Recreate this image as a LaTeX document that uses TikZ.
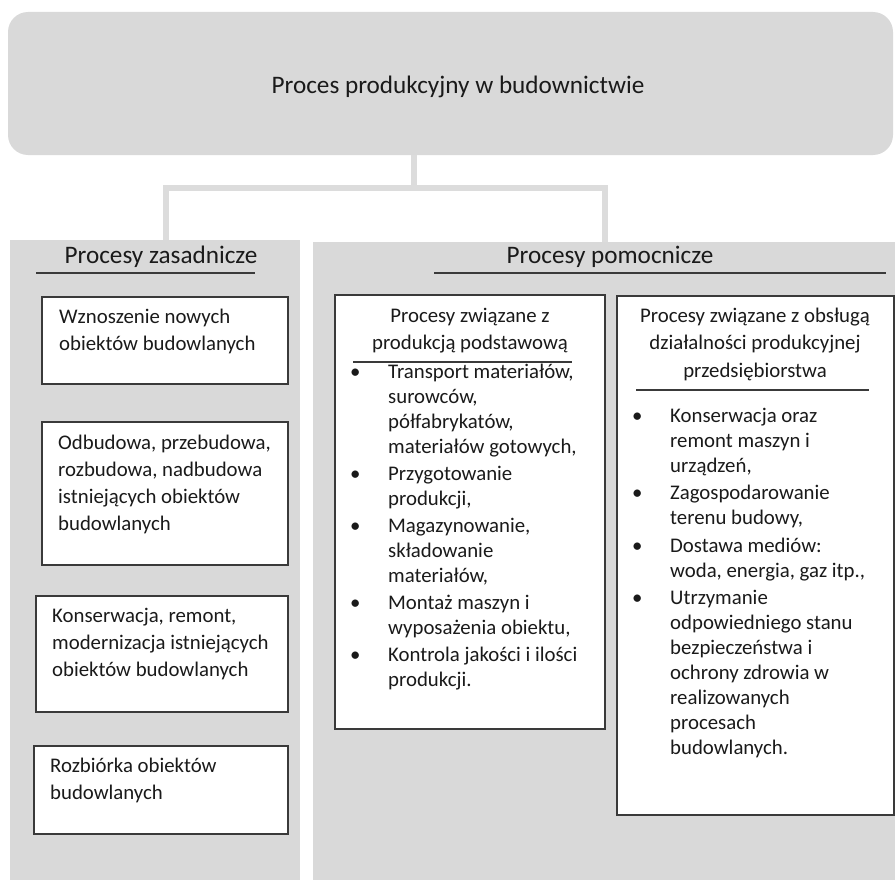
\documentclass[tikz,border=0pt]{standalone}
\usepackage{fontspec}
\setmainfont{Carlito}
\definecolor{panel}{HTML}{D9D9D9}
\definecolor{conncol}{HTML}{DCDCDC}
\definecolor{ink}{HTML}{1A1A1A}
\definecolor{edge}{HTML}{3A3A3A}
\newcommand{\leftf}{\fontsize{20.8}{27}\selectfont}
\newcommand{\listf}{\fontsize{20.8}{25}\selectfont}
\newcommand{\titf}{\fontsize{20.8}{27.5}\selectfont}
\newcommand{\headf}{\fontsize{25.2}{30}\selectfont}
\newcommand{\bl}{\llap{\makebox[66pt][c]{\textbullet}}}
\begin{document}
\begin{tikzpicture}[x=1pt,y=-1pt,
  topbox/.style={fill=panel, rounded corners=20pt, inner sep=0pt},
  panelbox/.style={fill=panel, inner sep=0pt},
  itembox/.style={draw=edge, fill=white, line width=1.3pt, inner sep=0pt},
  txt/.style={anchor=north west, inner sep=0pt, align=left, font=\leftf, text=ink},
  ltxt/.style={anchor=north west, inner sep=0pt, align=left, font=\listf, text=ink},
  ctxt/.style={anchor=north, inner sep=0pt, align=center, font=\titf, text=ink},
  head/.style={anchor=base, inner sep=0pt, font=\headf, text=ink},
  conn/.style={draw=conncol, line width=5.5pt},
  rule/.style={draw=edge, line width=1.3pt}]
\useasboundingbox (0,0) rectangle (895,883);
% top box
\node[topbox, minimum width=885pt, minimum height=143pt] (top) at (450.5,83.5) {};
\node[head] (toptitle) at (458,94) {Proces produkcyjny w budownictwie};
% panels
\node[panelbox, minimum width=290pt, minimum height=640pt] (lp) at (155,560) {};
\node[panelbox, minimum width=582pt, minimum height=638pt] (rp) at (604,561) {};
% connectors
\coordinate (jn) at (414,188);
\draw[conn] (jn |- top.south) -- (jn) -| ([xshift=11pt]lp.north);
\draw[conn] (jn) -| ([xshift=1pt]rp.north);
% headings
\node[head] (lh) at (161,263) {Procesy zasadnicze};
\draw[rule] (36,273) coordinate (lhl) -- (255,273) coordinate (lhr);
\node[head] (rh) at (610,263) {Procesy pomocnicze};
\draw[rule] (434,273) coordinate (rhl) -- (886,273) coordinate (rhr);
% left boxes
\node[itembox, minimum width=246pt, minimum height=87pt] (b1) at (165,340.5) {};
\node[txt] (b1t) at (59,304) {\strut Wznoszenie nowych\\obiektów budowlanych};
\node[itembox, minimum width=246pt, minimum height=143pt] (b2) at (165,493.5) {};
\node[txt] (b2t) at (58,430) {\strut Odbudowa, przebudowa,\\rozbudowa, nadbudowa\\istniejących obiektów\\budowlanych};
\node[itembox, minimum width=252pt, minimum height=116pt] (b3) at (162,654) {};
\node[txt] (b3t) at (52,603) {\strut Konserwacja, remont,\\modernizacja istniejących\\obiektów budowlanych};
\node[itembox, minimum width=254pt, minimum height=88pt] (b4) at (161,790) {};
\node[txt] (b4t) at (50,753) {\strut Rozbiórka obiektów\\budowlanych};
% right inner boxes
\node[itembox, minimum width=270pt, minimum height=434pt] (b5) at (470,512) {};
\node[ctxt] (b5h) at (470,303) {\strut Procesy związane z\\produkcją podstawową};
\draw[rule] (353,362) coordinate (b5l) -- (572,362) coordinate (b5r);
\node[ltxt] (b5t) at (388,360.5) {\strut\bl Transport materiałów,\\surowców,\\półfabrykatów,\\materiałów gotowych,\\[2pt]
\bl Przygotowanie\\produkcji,\\[2pt]
\bl Magazynowanie,\\składowanie\\materiałów,\\[2pt]
\bl Montaż maszyn i\\wyposażenia obiektu,\\[2pt]
\bl Kontrola jakości i ilości\\produkcji.};
\node[itembox, minimum width=277pt, minimum height=519pt] (b6) at (755.5,555.5) {};
\node[ctxt] (b6h) at (755,303) {\strut Procesy związane z obsługą\\działalności produkcyjnej\\przedsiębiorstwa};
\draw[rule] (636,390) coordinate (b6l) -- (869,390) coordinate (b6r);
\node[ltxt] (b6t) at (670,404.5) {\strut\bl Konserwacja oraz\\remont maszyn i\\urządzeń,\\[2.5pt]
\bl Zagospodarowanie\\terenu budowy,\\[2.5pt]
\bl Dostawa mediów:\\woda, energia, gaz itp.,\\[2.5pt]
\bl Utrzymanie\\odpowiedniego stanu\\bezpieczeństwa i\\ochrony zdrowia w\\realizowanych\\procesach\\budowlanych.};
\end{tikzpicture}
\end{document}
